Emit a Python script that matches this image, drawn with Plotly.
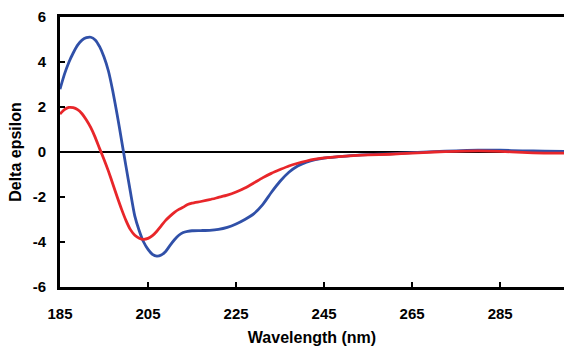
import plotly.graph_objects as go

# CD spectra: wavelength (nm) vs delta epsilon
wl_blue = [185, 186, 187, 188, 189, 190, 191, 192, 193, 194, 195, 196, 197, 198, 199,
           200, 201, 202, 203, 204, 205, 206, 207, 208, 209, 210, 211, 212, 213, 214,
           215, 217, 219, 221, 223, 225, 227, 229, 231, 233, 235, 237, 239, 241, 243,
           245, 250, 255, 260, 265, 270, 275, 280, 285, 290, 295, 300]
de_blue = [2.79, 3.45, 3.98, 4.4, 4.75, 4.97, 5.08, 5.1, 4.98, 4.68, 4.22, 3.6, 2.7, 1.65, 0.5,
           -0.65, -1.78, -2.85, -3.5, -4.0, -4.33, -4.55, -4.63, -4.58, -4.42, -4.15, -3.9, -3.7, -3.58, -3.53,
           -3.5, -3.49, -3.48, -3.44, -3.35, -3.2, -3.0, -2.75, -2.35, -1.8, -1.3, -0.9, -0.62, -0.45, -0.34,
           -0.27, -0.18, -0.12, -0.08, -0.03, 0.02, 0.05, 0.08, 0.08, 0.05, 0.04, 0.02]

wl_red = [185, 186, 187, 188, 189, 190, 191, 192, 193, 194, 195, 196, 197, 198, 199,
          200, 201, 202, 203, 204, 205, 206, 207, 208, 209, 210, 211, 212, 213, 214,
          215, 217, 219, 221, 223, 225, 227, 229, 231, 233, 235, 237, 239, 241, 243,
          245, 250, 255, 260, 265, 270, 275, 280, 285, 290, 295, 300]
de_red = [1.69, 1.88, 1.98, 1.97, 1.88, 1.7, 1.42, 1.08, 0.65, 0.15, -0.33, -0.85, -1.42, -2.0, -2.55,
          -3.05, -3.45, -3.7, -3.83, -3.88, -3.84, -3.72, -3.52, -3.28, -3.04, -2.85, -2.68, -2.55, -2.45, -2.33,
          -2.27, -2.2, -2.12, -2.02, -1.92, -1.78, -1.6, -1.38, -1.15, -0.95, -0.78, -0.62, -0.5, -0.4, -0.32,
          -0.26, -0.18, -0.13, -0.1, -0.05, 0.0, 0.03, 0.05, 0.03, -0.02, -0.05, -0.05]

x_ticks = [185, 205, 225, 245, 265, 285]
y_ticks = [-6, -4, -2, 0, 2, 4, 6]

font_family = "Liberation Sans, Arial, sans-serif"

fig = go.Figure()
fig.add_trace(go.Scatter(x=wl_blue, y=de_blue, mode="lines",
                         line=dict(color="#3050a8", width=2.8, shape="spline", smoothing=0.6),
                         showlegend=False))
fig.add_trace(go.Scatter(x=wl_red, y=de_red, mode="lines",
                         line=dict(color="#e8262a", width=2.8, shape="spline", smoothing=0.6),
                         showlegend=False))

fig.update_layout(
    width=564, height=346,
    margin=dict(l=60, r=0, t=17, b=59),
    paper_bgcolor="white", plot_bgcolor="white",
    font=dict(family=font_family, color="black"),
    xaxis=dict(
        range=[185, 299.5], tickvals=x_ticks, ticktext=[str(v) for v in x_ticks],
        ticks="inside", ticklen=5, tickwidth=2, tickcolor="black",
        showline=True, linecolor="black", linewidth=3, mirror=True,
        showgrid=False, zeroline=False,
        tickfont=dict(size=15, family=font_family, weight="bold"),
        ticklabelstandoff=11,
        title=dict(text="<b>Wavelength (nm)</b>", font=dict(size=16, family=font_family), standoff=13),
    ),
    yaxis=dict(
        range=[-6, 6], tickvals=y_ticks, ticktext=[str(v) for v in y_ticks],
        ticks="inside", ticklen=5, tickwidth=2, tickcolor="black",
        showline=True, linecolor="black", linewidth=3,
        showgrid=False, zeroline=True, zerolinecolor="black", zerolinewidth=1.5,
        tickfont=dict(size=15, family=font_family, weight="bold"),
        ticklabelstandoff=8,
        title=dict(text="<b>Delta epsilon</b>", font=dict(size=16, family=font_family), standoff=8),
    ),
)

fig.write_html("out.html")
